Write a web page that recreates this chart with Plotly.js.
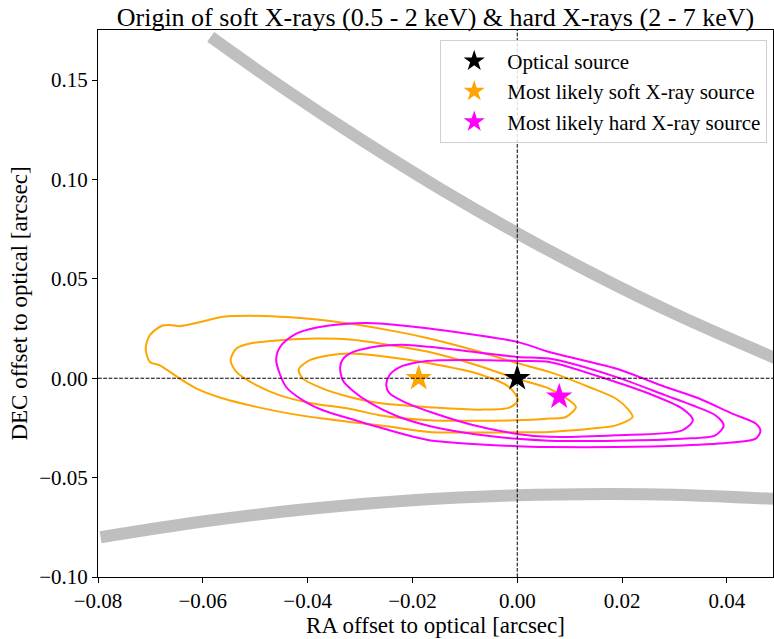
<!DOCTYPE html>
<html>
<head>
<meta charset="utf-8">
<script src="https://cdn.plot.ly/plotly-3.0.1.min.js"></script>
<style>html,body{margin:0;padding:0;background:#fff;}#chart{width:774px;height:639px;}</style>
</head>
<body>
<div id="chart"></div>
<script>
// Gray boundary arcs
const arcUpperX = [-0.0585, -0.045, -0.030, -0.015, 0.000, 0.015, 0.030, 0.0488, 0.052];
const arcUpperY = [0.1717, 0.1466, 0.1204, 0.0958, 0.0730, 0.0519, 0.0325, 0.0106, 0.0071];
const arcLowerX = [-0.0795, -0.060, -0.040, -0.020, 0.000, 0.0168, 0.030, 0.052];
const arcLowerY = [-0.0800, -0.0721, -0.0658, -0.0614, -0.0589, -0.0582, -0.0586, -0.0611];

// Soft X-ray contours (orange), outer -> inner
const soft1X = [-0.0709,-0.0701,-0.0679,-0.0663,-0.0644,-0.0612,-0.0561,-0.0510,-0.0453,-0.0383,-0.0320,-0.0225,-0.0168,-0.0082,0.0000,0.0061,0.0137,0.0188,0.0213,0.0220,0.0188,0.0143,0.0061,0.0000,-0.0168,-0.0245,-0.0320,-0.0371,-0.0434,-0.0498,-0.0561,-0.0612,-0.0644,-0.0682,-0.0701,-0.0709];
const soft1Y = [0.0150,0.0217,0.0263,0.0268,0.0262,0.0278,0.0309,0.0314,0.0309,0.0296,0.0275,0.0232,0.0200,0.0141,0.0076,0.0032,-0.0044,-0.0102,-0.0161,-0.0195,-0.0237,-0.0253,-0.0270,-0.0272,-0.0270,-0.0243,-0.0220,-0.0203,-0.0178,-0.0144,-0.0102,-0.0052,-0.0002,0.0065,0.0082,0.0150];
const soft2X = [-0.0547,-0.0536,-0.0510,-0.0453,-0.0383,-0.0320,-0.0250,-0.0168,-0.0080,0.0000,0.0061,0.0099,0.0112,0.0093,0.0061,0.0000,-0.0168,-0.0263,-0.0320,-0.0390,-0.0453,-0.0498,-0.0536,-0.0547];
const soft2Y = [0.0091,0.0150,0.0175,0.0191,0.0200,0.0195,0.0170,0.0132,0.0068,-0.0003,-0.0052,-0.0111,-0.0145,-0.0195,-0.0203,-0.0212,-0.0211,-0.0186,-0.0153,-0.0127,-0.0086,-0.0035,0.0032,0.0091];
const soft3X = [-0.0417,-0.0396,-0.0358,-0.0320,-0.0250,-0.0168,-0.0072,-0.0015,0.0001,-0.0015,-0.0072,-0.0168,-0.0230,-0.0276,-0.0320,-0.0371,-0.0409,-0.0417];
const soft3Y = [0.0044,0.0091,0.0116,0.0124,0.0108,0.0075,0.0020,-0.0045,-0.0111,-0.0148,-0.0158,-0.0146,-0.0134,-0.0119,-0.0094,-0.0052,-0.0002,0.0044];

// Hard X-ray contours (magenta), outer -> inner
const hard1X = [-0.0460,-0.0452,-0.0425,-0.0380,-0.0330,-0.0286,-0.0225,-0.0168,0.0000,0.0061,0.0188,0.0283,0.0347,0.0410,0.0455,0.0464,0.0455,0.0410,0.0315,0.0188,0.0061,0.0000,-0.0168,-0.0244,-0.0320,-0.0371,-0.0409,-0.0441,-0.0460];
const hard1Y = [0.0091,0.0160,0.0220,0.0256,0.0273,0.0278,0.0267,0.0250,0.0183,0.0132,0.0049,-0.0044,-0.0102,-0.0178,-0.0228,-0.0265,-0.0304,-0.0323,-0.0338,-0.0346,-0.0346,-0.0342,-0.0312,-0.0262,-0.0203,-0.0161,-0.0111,-0.0044,0.0091];
const hard2X = [-0.0338,-0.0333,-0.0315,-0.0280,-0.0220,-0.0168,0.0000,0.0061,0.0188,0.0283,0.0334,0.0378,0.0394,0.0378,0.0315,0.0188,0.0061,0.0000,-0.0080,-0.0168,-0.0230,-0.0280,-0.0315,-0.0333,-0.0338];
const hard2Y = [0.0055,0.0095,0.0130,0.0155,0.0168,0.0158,0.0107,0.0099,0.0007,-0.0086,-0.0136,-0.0186,-0.0237,-0.0287,-0.0304,-0.0314,-0.0314,-0.0305,-0.0282,-0.0240,-0.0190,-0.0125,-0.0060,-0.0010,0.0055];
const hard3X = [-0.0250,-0.0244,-0.0225,-0.0190,-0.0149,-0.0053,0.0004,0.0061,0.0188,0.0251,0.0315,0.0335,0.0315,0.0188,0.0061,0.0000,-0.0085,-0.0160,-0.0215,-0.0244,-0.0250];
const hard3Y = [-0.0035,0.0015,0.0055,0.0080,0.0090,0.0091,0.0087,0.0082,-0.0019,-0.0077,-0.0153,-0.0211,-0.0262,-0.0287,-0.0295,-0.0280,-0.0235,-0.0175,-0.0120,-0.0075,-0.0035];

// Source positions
const sourceNames = ['Optical source', 'Most likely soft X-ray source', 'Most likely hard X-ray source'];
const sourceX = [0.0, -0.0188, 0.0080];
const sourceY = [0.0, 0.0, -0.0093];
const sourceColors = ['#000000', '#ffa500', '#ff00ff'];

const traces = [];
traces.push({x: arcUpperX, y: arcUpperY, mode: 'lines', line: {color: '#bfbfbf', width: 12, shape: 'spline'}, showlegend: false, hoverinfo: 'skip'});
traces.push({x: arcLowerX, y: arcLowerY, mode: 'lines', line: {color: '#bfbfbf', width: 12, shape: 'spline'}, showlegend: false, hoverinfo: 'skip'});
[[soft1X, soft1Y], [soft2X, soft2Y], [soft3X, soft3Y]].forEach(([xs, ys]) => {
  traces.push({x: xs, y: ys, mode: 'lines', line: {color: '#ffa500', width: 2, shape: 'spline', smoothing: 0.8}, showlegend: false, hoverinfo: 'skip'});
});
[[hard1X, hard1Y], [hard2X, hard2Y], [hard3X, hard3Y]].forEach(([xs, ys]) => {
  traces.push({x: xs, y: ys, mode: 'lines', line: {color: '#ff00ff', width: 2, shape: 'spline', smoothing: 0.8}, showlegend: false, hoverinfo: 'skip'});
});
sourceNames.forEach((n, i) => {
  traces.push({x: [sourceX[i]], y: [sourceY[i]], name: n, mode: 'markers',
    marker: {symbol: 'star', size: 20, color: sourceColors[i], line: {width: 0}}});
});

const fam = '"Liberation Serif", "DejaVu Serif", serif';
const tickFont = {family: fam, size: 21, color: '#000'};
const labelFont = {family: fam, size: 23, color: '#000'};
const legendFont = {family: fam, size: 21, color: '#000'};

const layout = {
  width: 774, height: 639,
  margin: {l: 98, r: 1, t: 30, b: 62},
  paper_bgcolor: '#fff', plot_bgcolor: '#fff',
  font: tickFont,
  title: {text: 'Origin of soft X-rays (0.5 - 2 keV) & hard X-rays (2 - 7 keV)', font: {family: fam, size: 26, color: '#000'},
          x: 0.5, xref: 'paper', xanchor: 'center', y: 1, yref: 'paper', yanchor: 'bottom', pad: {b: 4}},
  xaxis: {range: [-0.08, 0.0488], tickvals: [-0.08, -0.06, -0.04, -0.02, 0, 0.02, 0.04], tickformat: '.2f',
          showgrid: false, zeroline: false, showline: true, linecolor: '#000', linewidth: 1, mirror: true,
          ticks: 'outside', ticklen: 5, tickcolor: '#000', tickfont: tickFont,
          title: {text: 'RA offset to optical [arcsec]', font: labelFont, standoff: 4}},
  yaxis: {range: [-0.1, 0.1752], tickvals: [-0.10, -0.05, 0, 0.05, 0.10, 0.15], tickformat: '.2f',
          showgrid: false, zeroline: false, showline: true, linecolor: '#000', linewidth: 1, mirror: true,
          ticks: 'outside', ticklen: 5, tickcolor: '#000', tickfont: tickFont,
          title: {text: 'DEC offset to optical [arcsec]', font: labelFont, standoff: 5}},
  shapes: [
    {type: 'line', xref: 'x', yref: 'paper', x0: 0, x1: 0, y0: 0, y1: 1, line: {color: '#000', width: 1, dash: '3.7px,1.6px'}, layer: 'above'},
    {type: 'line', xref: 'paper', yref: 'y', x0: 0, x1: 1, y0: 0, y1: 0, line: {color: '#000', width: 1, dash: '3.7px,1.6px'}, layer: 'above'}
  ],
  legend: {x: 0.507, y: 0.982, xanchor: 'left', yanchor: 'top', bgcolor: 'rgba(255,255,255,0.85)',
           bordercolor: '#d0d0d0', borderwidth: 1, font: legendFont, tracegroupgap: 0, itemwidth: 56},
  showlegend: true
};

Plotly.newPlot('chart', traces, layout, {displayModeBar: false, staticPlot: true});
</script>
</body>
</html>
